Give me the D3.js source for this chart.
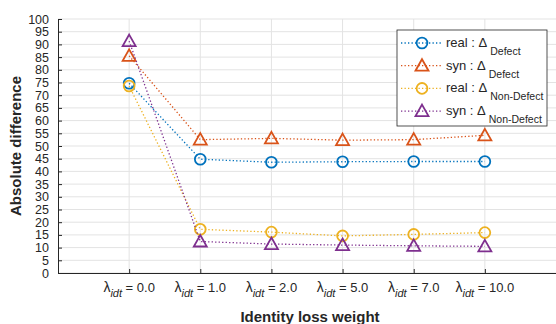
<!DOCTYPE html>
<html>
<head>
<meta charset="utf-8">
<script src="https://d3js.org/d3.v7.min.js"></script>
<style>
  body { margin: 0; background: #fff; }
  text { font-family: "Liberation Sans", Arial, sans-serif; fill: #262626; }
</style>
</head>
<body>
<div id="chart"></div>
<script>
// data
var categories = ["0.0", "1.0", "2.0", "5.0", "7.0", "10.0"];
var realDefect    = [74.7, 44.8, 43.6, 43.8, 43.9, 43.9];
var synDefect     = [85.5, 52.5, 53.0, 52.3, 52.5, 54.2];
var realNonDefect = [73.6, 17.2, 16.1, 14.6, 15.2, 15.9];
var synNonDefect  = [91.3, 12.4, 11.4, 11.0, 10.7, 10.5];
var yTicks = d3.range(0, 101, 5);

var series = [
  {name: "real", sub: "Defect",     values: realDefect,    color: "#0072BD", marker: "circle"},
  {name: "syn",  sub: "Defect",     values: synDefect,     color: "#D95319", marker: "triangle"},
  {name: "real", sub: "Non-Defect", values: realNonDefect, color: "#EDB120", marker: "circle"},
  {name: "syn",  sub: "Non-Defect", values: synNonDefect,  color: "#7E2F8E", marker: "triangle"}
];

var W = 556, H = 324;
var margin = {top: 19, right: 0, bottom: 51, left: 58};
var width = W - margin.left - margin.right,
    height = H - margin.top - margin.bottom;

var svg = d3.select("#chart").append("svg")
    .attr("width", W).attr("height", H);
var g = svg.append("g")
    .attr("transform", "translate(" + margin.left + "," + margin.top + ")");

var x = d3.scaleLinear().domain([0, 7]).range([0, width]);
var y = d3.scaleLinear().domain([0, 100]).range([height, 0]);

// grid
g.append("g").selectAll("line").data(yTicks).enter().append("line")
  .attr("x1", 0).attr("x2", width)
  .attr("y1", function(d) { return y(d); }).attr("y2", function(d) { return y(d); })
  .attr("stroke", "#e3e3e3").attr("stroke-width", 1);
g.append("g").selectAll("line").data(categories).enter().append("line")
  .attr("x1", function(d, i) { return x(i + 1); }).attr("x2", function(d, i) { return x(i + 1); })
  .attr("y1", 0).attr("y2", height)
  .attr("stroke", "#e3e3e3").attr("stroke-width", 1);

// axes
var yAxis = g.append("g")
  .call(d3.axisLeft(y).tickValues(yTicks).tickSize(-4).tickPadding(9).tickSizeOuter(0));
yAxis.select(".domain").attr("stroke", "#262626");
yAxis.selectAll(".tick line").attr("stroke", "#262626");
yAxis.selectAll("text").attr("font-size", 12.5).attr("fill", "#262626")
  .attr("font-family", "Liberation Sans, Arial, sans-serif");

var xAxis = g.append("g").attr("transform", "translate(0," + height + ")")
  .call(d3.axisBottom(x).tickValues(d3.range(1, 7)).tickSize(-4).tickFormat("").tickSizeOuter(0));
xAxis.select(".domain").attr("stroke", "#262626");
xAxis.selectAll(".tick line").attr("stroke", "#262626");

// x tick labels with lambda_idt
var xl = g.append("g").selectAll("text").data(categories).enter().append("text")
  .attr("x", function(d, i) { return x(i + 1); })
  .attr("y", height + 19)
  .attr("text-anchor", "middle")
  .attr("font-size", 13);
xl.append("tspan").attr("font-size", 14).text("\u03bb");
xl.append("tspan").attr("font-size", 11).attr("font-style", "italic").attr("dy", 5).text("idt");
xl.append("tspan").attr("dy", -5).text(function(d) { return " = " + d; });

// axis titles
g.append("text")
  .attr("x", width / 2 + 3).attr("y", height + 49)
  .attr("text-anchor", "middle").attr("font-size", 15).attr("font-weight", "bold")
  .text("Identity loss weight");
g.append("text")
  .attr("transform", "translate(" + (-37) + "," + (height / 2) + ") rotate(-90)")
  .attr("text-anchor", "middle").attr("font-size", 15).attr("font-weight", "bold")
  .text("Absolute difference");

var line = d3.line()
  .x(function(d, i) { return x(i + 1); })
  .y(function(d) { return y(d); });

function drawMarker(sel, type, color) {
  if (type === "circle") {
    sel.append("circle").attr("r", 5.4)
      .attr("fill", "none").attr("stroke", color).attr("stroke-width", 1.8);
  } else {
    sel.append("path").attr("d", "M0,-6.5L6.5,5L-6.5,5Z")
      .attr("fill", "none").attr("stroke", color).attr("stroke-width", 1.8)
      .attr("stroke-linejoin", "miter");
  }
}

series.forEach(function(s) {
  g.append("path").datum(s.values)
    .attr("d", line)
    .attr("fill", "none").attr("stroke", s.color)
    .attr("stroke-width", 1.3).attr("stroke-dasharray", "1.3,2.2");
  var m = g.append("g").selectAll("g").data(s.values).enter().append("g")
    .attr("transform", function(d, i) { return "translate(" + x(i + 1) + "," + y(d) + ")"; });
  drawMarker(m, s.marker, s.color);
});

// legend
var lg = svg.append("g").attr("transform", "translate(397,30)");
lg.append("rect").attr("width", 150).attr("height", 96)
  .attr("fill", "#fff").attr("stroke", "#262626").attr("stroke-width", 0.8);
series.forEach(function(s, i) {
  var row = lg.append("g").attr("transform", "translate(0," + (13 + i * 22.7) + ")");
  row.append("line").attr("x1", 4).attr("x2", 46).attr("y1", 0).attr("y2", 0)
    .attr("stroke", s.color).attr("stroke-width", 1.3).attr("stroke-dasharray", "1.3,2.2");
  var mk = row.append("g").attr("transform", "translate(25,0)");
  drawMarker(mk, s.marker, s.color);
  var t = row.append("text").attr("x", 49).attr("y", 4).attr("font-size", 13);
  t.append("tspan").text(s.name + " : \u0394");
  t.append("tspan").attr("font-size", 10.5).attr("dy", 8).attr("dx", 3).text(s.sub);
});
</script>
</body>
</html>
